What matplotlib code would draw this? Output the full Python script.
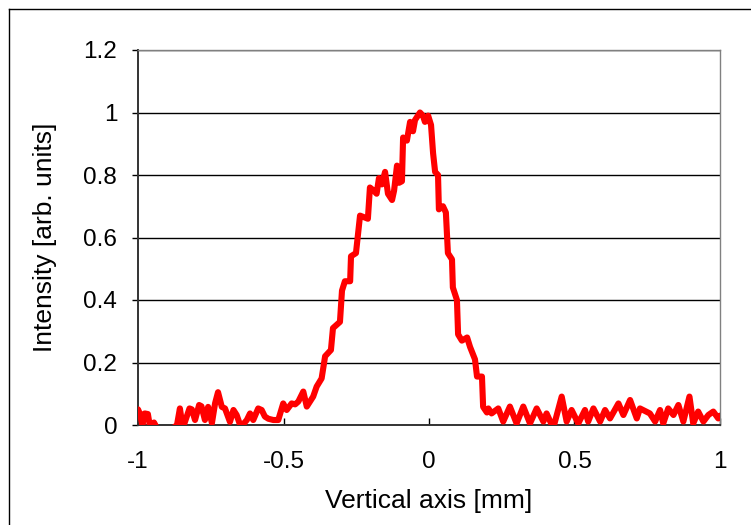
import matplotlib
matplotlib.use("Agg")
import matplotlib.pyplot as plt
from matplotlib.lines import Line2D
from matplotlib.ticker import FuncFormatter

plt.rcParams['font.family'] = ['Liberation Sans', 'DejaVu Sans']
plt.rcParams['axes.unicode_minus'] = False

# profile (position in mm, intensity)
pos = [-1.0, -0.993, -0.985, -0.977, -0.966, -0.958, -0.945, -0.935, -0.905, -0.88,
       -0.866, -0.856, -0.846, -0.823, -0.815, -0.804, -0.79, -0.782, -0.77, -0.759,
       -0.746, -0.735, -0.725, -0.712, -0.701, -0.684, -0.672, -0.661, -0.649, -0.638,
       -0.626, -0.615, -0.604, -0.587, -0.575, -0.564, -0.552, -0.535, -0.518, -0.501,
       -0.489, -0.472, -0.46, -0.449, -0.432, -0.42, -0.409, -0.398, -0.386, -0.369,
       -0.357, -0.337, -0.33, -0.306, -0.299, -0.289, -0.271, -0.268, -0.251, -0.237,
       -0.21, -0.203, -0.19, -0.18, -0.172, -0.162, -0.151, -0.141, -0.127, -0.12,
       -0.11, -0.103, -0.093, -0.089, -0.076, -0.065, -0.055, -0.048, -0.031, -0.021,
       -0.014, -0.003, 0.007, 0.014, 0.021, 0.031, 0.034, 0.048, 0.058, 0.065,
       0.079, 0.082, 0.096, 0.1, 0.113, 0.131, 0.141, 0.158, 0.165, 0.182,
       0.186, 0.199, 0.204, 0.215, 0.238, 0.255, 0.278, 0.301, 0.324, 0.347,
       0.37, 0.393, 0.404, 0.427, 0.456, 0.473, 0.49, 0.513, 0.536, 0.547,
       0.565, 0.588, 0.605, 0.622, 0.651, 0.668, 0.691, 0.714, 0.725, 0.759,
       0.777, 0.794, 0.805, 0.822, 0.84, 0.857, 0.874, 0.895, 0.908, 0.925,
       0.943, 0.96, 0.977, 0.994, 1.0]
intensity = [0.05, 0.035, 0.0, 0.037, 0.035, -0.01, 0.008, -0.01, -0.01, -0.01,
             0.0, 0.053, -0.01, 0.053, 0.05, 0.016, 0.064, 0.06, 0.016, 0.058,
             0.006, 0.07, 0.105, 0.058, 0.053, 0.01, 0.048, 0.032, 0.0, 0.003,
             0.016, 0.037, 0.016, 0.053, 0.048, 0.027, 0.02, 0.016, 0.016, 0.069,
             0.048, 0.069, 0.066, 0.075, 0.107, 0.059, 0.075, 0.091, 0.123, 0.149,
             0.22, 0.24, 0.31, 0.33, 0.43, 0.46, 0.46, 0.54, 0.55, 0.67,
             0.66, 0.76, 0.75, 0.74, 0.79, 0.77, 0.81, 0.74, 0.72, 0.75,
             0.83, 0.775, 0.78, 0.92, 0.91, 0.97, 0.94, 0.976, 1.0, 0.99,
             0.97, 0.99, 0.96, 0.87, 0.81, 0.8, 0.69, 0.7, 0.68, 0.55,
             0.53, 0.44, 0.4, 0.29, 0.27, 0.28, 0.25, 0.21, 0.155, 0.155,
             0.058, 0.04, 0.053, 0.037, 0.053, 0.011, 0.059, 0.005, 0.059, 0.005,
             0.053, 0.011, 0.037, -0.01, 0.091, 0.011, 0.048, 0.005, 0.048, 0.011,
             0.053, 0.011, 0.048, 0.021, 0.069, 0.032, 0.08, 0.021, 0.053, 0.037,
             0.011, 0.048, 0.005, 0.053, 0.032, 0.064, 0.011, 0.091, 0.005, 0.043,
             0.011, 0.032, 0.043, 0.021, 0.03]

xticks = [-1, -0.5, 0, 0.5, 1]
yticks = [0, 0.2, 0.4, 0.6, 0.8, 1.0, 1.2]

fig = plt.figure(figsize=(7.51, 5.25), dpi=100)
ax = fig.add_axes([138 / 751, 100 / 525, 582 / 751, 375 / 525])

ax.plot(pos, intensity, color='#ff0000', lw=4.4, solid_joinstyle='round',
        solid_capstyle='round', zorder=3)

ax.set_xlim(-1, 1)
ax.set_ylim(0, 1.2)
ax.set_xticks(xticks)
ax.set_yticks(yticks)
fmt = FuncFormatter(lambda v, p: '%g' % v)
ax.xaxis.set_major_formatter(fmt)
ax.yaxis.set_major_formatter(fmt)

ax.yaxis.grid(True, color='black', lw=1.0)
ax.set_axisbelow(True)

ax.tick_params(axis='x', direction='in', length=5, width=1, labelsize=17.5, pad=19)
ax.tick_params(axis='y', direction='out', length=4, width=1, labelsize=17.5, pad=11)

for s in ['left', 'bottom']:
    ax.spines[s].set_color('#333333')
    ax.spines[s].set_linewidth(1.4)
for s in ['top', 'right']:
    ax.spines[s].set_color('#808080')
    ax.spines[s].set_linewidth(1.0)

ax.set_xlabel('Vertical axis [mm]', fontsize=19, labelpad=11)
ax.set_ylabel('Intensity [arb. units]', fontsize=19, labelpad=19)

# outer chart frame
fig.add_artist(Line2D([8.5 / 751, 8.5 / 751], [0, 1 - 9 / 525], color='black', lw=1.0))
fig.add_artist(Line2D([8.5 / 751, 1], [1 - 9 / 525, 1 - 9 / 525], color='black', lw=1.0))

fig.savefig('out.png', dpi=100)
